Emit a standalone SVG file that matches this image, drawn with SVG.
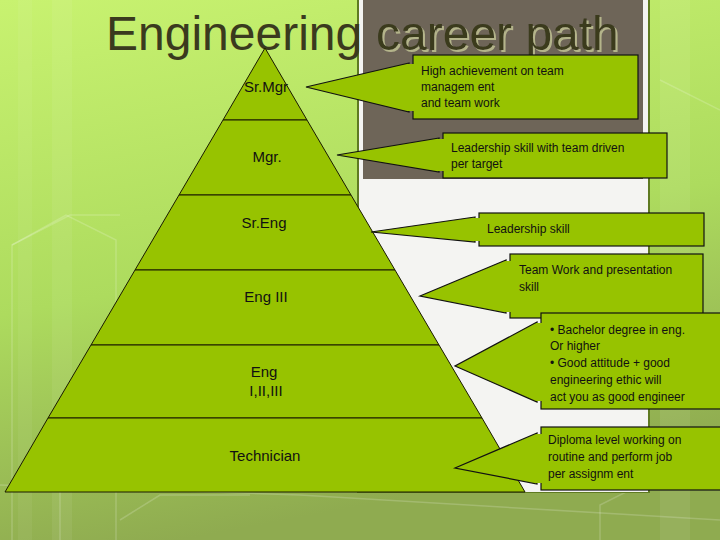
<svg xmlns="http://www.w3.org/2000/svg" width="720" height="540" viewBox="0 0 720 540">
<defs>
<linearGradient id="bg" x1="0" y1="0" x2="0.25" y2="1">
<stop offset="0" stop-color="#c8f270"/>
<stop offset="0.55" stop-color="#addb5e"/>
<stop offset="1" stop-color="#8fab50"/>
</linearGradient>
<filter id="shadow" x="-5%" y="-20%" width="115%" height="150%">
<feDropShadow dx="2" dy="2" stdDeviation="0.6" flood-color="#b4b48a" flood-opacity="1"/>
</filter>
<style>
.tier{fill:#97c300;stroke:#1a1a00;stroke-width:1}
.lbl{font-family:"Liberation Sans",Arial,sans-serif;font-size:15px;fill:#111;text-anchor:middle}
.box{fill:#97c300;stroke:#111;stroke-width:1.2}
.ct{font-family:"Liberation Sans",Arial,sans-serif;font-size:12px;fill:#111}
.title{font-family:"Liberation Sans",Arial,sans-serif;font-size:48px;fill:#3a3a1e}
.deco{fill:none;stroke:#ffffff;stroke-opacity:0.18;stroke-width:1.5}
</style>
</defs>
<rect x="0" y="0" width="720" height="540" fill="url(#bg)"/>
<g id="decor">
<rect x="18" y="0" width="14" height="540" fill="#fff" opacity="0.05"/>
<rect x="52" y="0" width="20" height="540" fill="#fff" opacity="0.06"/>
<rect x="660" y="0" width="30" height="540" fill="#fff" opacity="0.07"/>
<polyline class="deco" points="12,245 70,215 120,215"/>
<polyline class="deco" points="12,540 12,245 66,215 116,240 116,540"/>
<polyline class="deco" points="60,540 60,400 90,380"/>
<polyline class="deco" points="660,80 720,110"/>
<polyline class="deco" points="600,540 600,505 650,480 720,480"/>
<polyline class="deco" points="120,520 160,495 250,495"/>
<polyline class="deco" points="0,485 300,495 720,520"/>
</g>
<g id="panel">
<rect x="357" y="0" width="293" height="493" fill="#5f7a22"/>
<rect x="359" y="0" width="289" height="492" fill="#f4f4f2"/>
<rect x="363" y="0" width="280" height="179" fill="#6e6558"/>
</g>
<g id="title">
<text class="title" x="106" y="50">Engineering</text>
<text class="title" x="376" y="50" filter="url(#shadow)">career path</text>
</g>
<g id="pyramid">
<g id="tier-srmgr"><polygon class="tier" points="265,48 307,120 223,120"/><text class="lbl" x="266" y="92">Sr.Mgr</text></g>
<g id="tier-mgr"><polygon class="tier" points="223,120 307,120 351,195 179,195"/><text class="lbl" x="267" y="162">Mgr.</text></g>
<g id="tier-sreng"><polygon class="tier" points="179,195 351,195 395,270 135,270"/><text class="lbl" x="264" y="228">Sr.Eng</text></g>
<g id="tier-eng3"><polygon class="tier" points="135,270 395,270 439,345 91,345"/><text class="lbl" x="266" y="302">Eng  III</text></g>
<g id="tier-eng"><polygon class="tier" points="91,345 439,345 482,418 48,418"/><text class="lbl" x="264" y="377">Eng</text><text class="lbl" x="266" y="396">I,II,III</text></g>
<g id="tier-tech"><polygon class="tier" points="48,418 482,418 525,492 5,492"/><text class="lbl" x="265" y="461">Technician</text></g>
</g>
<g id="connectors">
<path class="box" d="M409,63 L306,87 L409,112 Z"/>
<path class="box" d="M439,138 L337,155 L439,172 Z"/>
<path class="box" d="M475,217 L371,232 L475,242 Z"/>
<path class="box" d="M506,260 L420,296 L506,313 Z"/>
<path class="box" d="M537,322 L455,366 L537,402 Z"/>
<path class="box" d="M537,433 L455,468 L537,484 Z"/>
</g>
<g id="callout-1"><rect class="box" x="413" y="55" width="225" height="64"/><rect x="408" y="64" width="6" height="47" fill="#97c300"/>
<text class="ct" x="421" y="75">High achievement on team</text><text class="ct" x="421" y="91">managem ent</text><text class="ct" x="421" y="107">and team work</text></g>
<g id="callout-2"><rect class="box" x="443" y="133" width="224" height="45"/><rect x="438" y="139" width="6" height="32" fill="#97c300"/>
<text class="ct" x="451" y="152">Leadership skill with team  driven</text><text class="ct" x="451" y="168">per target</text></g>
<g id="callout-3"><rect class="box" x="479" y="213" width="225" height="33"/><rect x="474" y="218" width="6" height="23" fill="#97c300"/>
<text class="ct" x="487" y="233">Leadership skill</text></g>
<g id="callout-4"><rect class="box" x="510" y="254" width="193" height="64"/><rect x="505" y="261" width="6" height="51" fill="#97c300"/>
<text class="ct" x="519" y="274">Team Work and presentation</text><text class="ct" x="519" y="291">skill</text></g>
<g id="callout-5"><rect class="box" x="541" y="313" width="180" height="96"/><rect x="536" y="323" width="6" height="78" fill="#97c300"/>
<text class="ct" x="550" y="334">•  Bachelor degree in eng.</text><text class="ct" x="550" y="350">Or higher</text><text class="ct" x="550" y="367">•  Good attitude + good</text><text class="ct" x="550" y="384">engineering ethic  will</text><text class="ct" x="550" y="401">act you as  good engineer</text></g>
<g id="callout-6"><rect class="box" x="541" y="427" width="180" height="63"/><rect x="536" y="434" width="6" height="49" fill="#97c300"/>
<text class="ct" x="548" y="444">Diploma level working on</text><text class="ct" x="548" y="461">routine and perform job</text><text class="ct" x="548" y="478">per assignm ent</text></g>
</svg>
